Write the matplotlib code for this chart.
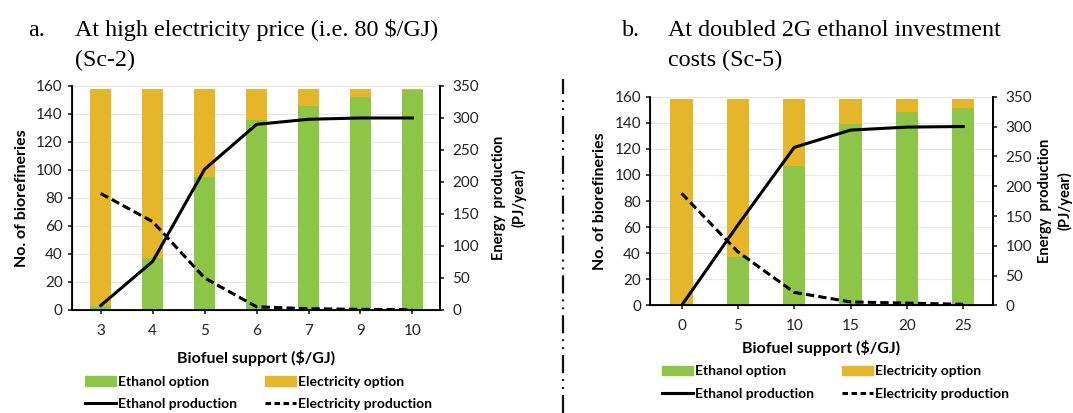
import matplotlib
matplotlib.use('Agg')
import matplotlib.pyplot as plt
from matplotlib.patches import Patch
from matplotlib.lines import Line2D
import numpy as np

# panel a: high electricity price (Sc-2)
support_a = ['3', '4', '5', '6', '7', '9', '10']
ethanol_opt_a = [3, 37, 95, 136, 146, 152, 157]
total_a = [158, 158, 158, 158, 158, 158, 158]
ethanol_prod_a = [7, 76, 220, 290, 298, 300, 300]
elec_prod_a = [182, 138, 50, 5, 2, 1, 0.5]

# panel b: doubled 2G ethanol investment costs (Sc-5)
support_b = ['0', '5', '10', '15', '20', '25']
ethanol_opt_b = [0, 37, 107, 139, 148, 151]
total_b = [158, 158, 158, 158, 158, 158]
ethanol_prod_b = [0, 135, 265, 294, 299, 300]
elec_prod_b = [188, 90, 22, 6, 4, 2]

GREEN = '#8DC646'
ORANGE = '#E5B52A'
SANS = ['Lato', 'DejaVu Sans']
SERIF = ['Liberation Serif', 'DejaVu Serif']

plt.rcParams['font.family'] = SANS
plt.rcParams['lines.scale_dashes'] = False

fig = plt.figure(figsize=(10.73, 4.13), dpi=100)


def panel(rect, cats, eth_opt, total, eth_prod, elec_prod, xpad, rpad):
    ax = fig.add_axes(rect)
    x = np.arange(len(cats))
    eth_opt = np.array(eth_opt)
    elec_opt = np.array(total) - eth_opt
    ax.bar(x, eth_opt, width=0.4, color=GREEN, zorder=2)
    ax.bar(x, elec_opt, width=0.4, bottom=eth_opt, color=ORANGE, zorder=2)
    ax.set_ylim(0, 160)
    ax.set_yticks(range(0, 161, 20))
    ax.set_xlim(-0.56, len(cats) - 0.47)
    ax.set_xticks(x)
    ax.set_xticklabels(cats)
    ax.grid(axis='y', color='#E6E6E6', lw=0.8)
    ax.set_axisbelow(True)
    ax.set_ylabel('No. of biorefineries', fontsize=11.5, fontweight='bold', labelpad=5)
    ax.set_xlabel('Biofuel support ($/GJ)', fontsize=11.5, fontweight='bold',
                  labelpad=xpad)
    ax.spines['top'].set_visible(False)
    for s in ['left', 'bottom', 'right']:
        ax.spines[s].set_linewidth(1.3)
    ax.tick_params(labelsize=11, length=3, width=1.2, colors='#222222')
    ax.tick_params(axis='x', pad=7)

    ax2 = ax.twinx()
    ax2.plot(x, eth_prod, color='black', lw=2.2)
    ax2.plot(x, elec_prod, color='black', lw=2.2, dashes=(6, 3))
    ax2.set_ylim(0, 350)
    ax2.set_yticks(range(0, 351, 50))
    ax2.spines['top'].set_visible(False)
    ax2.spines['right'].set_linewidth(1.3)
    ax2.tick_params(labelsize=11, length=3, width=1.2, colors='#222222', pad=6)
    lab = ax2.set_ylabel('Energy  production\n(PJ/year)', fontsize=10.5,
                         fontweight='bold', labelpad=rpad)
    lab.set_linespacing(1.45)
    return ax, ax2


panel([0.0668, 0.2494, 0.3432, 0.5424], support_a, ethanol_opt_a, total_a,
      ethanol_prod_a, elec_prod_a, 9, 9)
panel([0.6058, 0.2603, 0.3197, 0.5056], support_b, ethanol_opt_b, total_b,
      ethanol_prod_b, elec_prod_b, 5, 4)

# titles
TS = 17.4
fig.text(28 / 1073, 1 - 30 / 413, 'a.', family=SERIF, fontsize=TS, va='center')
fig.text(75 / 1073, 1 - 30 / 413, 'At high electricity price (i.e. 80 $/GJ)',
         family=SERIF, fontsize=TS, va='center')
fig.text(75 / 1073, 1 - 60 / 413, '(Sc-2)', family=SERIF, fontsize=TS, va='center')
fig.text(622 / 1073, 1 - 30 / 413, 'b.', family=SERIF, fontsize=TS, va='center')
fig.text(668 / 1073, 1 - 30 / 413, 'At doubled 2G ethanol investment',
         family=SERIF, fontsize=TS, va='center')
fig.text(668 / 1073, 1 - 60 / 413, 'costs (Sc-5)', family=SERIF, fontsize=TS,
         va='center')

# separator between panels
fig.add_artist(Line2D([563 / 1073, 563 / 1073], [0, 1 - 79 / 413], color='#111111',
                      lw=1.6, dashes=(13, 4.3, 1.4, 4.3, 1.4, 4.3)))

handles = [Patch(color=GREEN), Line2D([], [], color='black', lw=2.2),
           Patch(color=ORANGE), Line2D([], [], color='black', lw=2.2, dashes=(4, 2.5))]
labels = ['Ethanol option', 'Ethanol production', 'Electricity option',
          'Electricity production']
for xa, ya in [(85 / 1073, 1 - 393 / 413), (662 / 1073, 1 - 382.5 / 413)]:
    fig.legend(handles, labels, ncol=2, loc='center left', bbox_to_anchor=(xa, ya),
               frameon=False, prop={'size': 10, 'weight': 'bold'}, handlelength=2.2,
               handleheight=0.7, handletextpad=0.2, columnspacing=2.0,
               labelspacing=0.75, borderpad=0, borderaxespad=0)

fig.savefig('out.png', dpi=100)
